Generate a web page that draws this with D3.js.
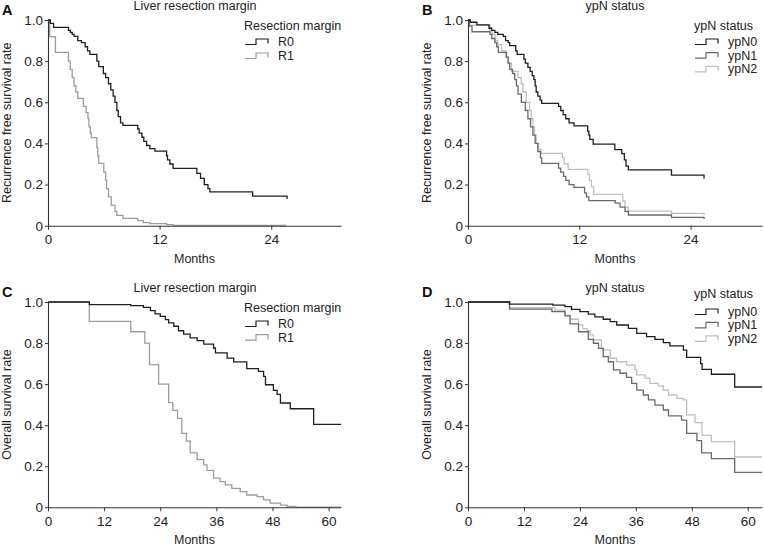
<!DOCTYPE html>
<html><head><meta charset="utf-8">
<script src="https://cdn.jsdelivr.net/npm/d3@7"></script>
<style>
html,body{margin:0;padding:0;background:#fff;}
svg{display:block;font-family:"Liberation Sans",Arial,sans-serif;}
</style></head>
<body><svg id="c" width="764" height="545"></svg>
<script>
// ---- data (months, survival rate) ----
const rfsMarginR0 = [[0,1],[0.25,0.984],[0.6,0.964],[2.2,0.95],[2.4,0.94],[2.6,0.93],[2.8,0.92],[3.2,0.90],[3.6,0.89],[4.0,0.87],[4.25,0.85],[4.5,0.833],[5.25,0.80],[5.45,0.773],[5.95,0.74],[6.2,0.72],[6.5,0.69],[6.75,0.66],[7.0,0.63],[7.2,0.60],[7.4,0.56],[7.55,0.53],[7.8,0.50],[8.05,0.488],[9.65,0.47],[9.8,0.45],[10.1,0.43],[10.3,0.41],[10.6,0.39],[10.95,0.375],[11.5,0.363],[12.75,0.34],[12.85,0.32],[13.1,0.30],[13.45,0.279],[16.0,0.254],[16.4,0.23],[16.8,0.20],[17.2,0.18],[17.4,0.164],[22.0,0.144],[25.7,0.144],[25.7,0.13]];
const rfsMarginR1 = [[0,1],[0.18,0.919],[0.8,0.843],[2.2,0.80],[2.4,0.76],[2.6,0.72],[2.8,0.68],[3.0,0.65],[3.2,0.619],[3.8,0.58],[4.1,0.55],[4.3,0.522],[4.4,0.48],[4.55,0.45],[4.65,0.428],[5.25,0.38],[5.35,0.34],[5.45,0.303],[6.0,0.26],[6.2,0.22],[6.3,0.18],[6.5,0.14],[6.8,0.10],[7.2,0.07],[7.4,0.05],[8.05,0.036],[9.65,0.025],[10.25,0.015],[10.95,0.01],[12.75,0.005],[13.45,0.002],[25.6,0.002]];
const rfsYpN0 = [[0,1],[0.25,0.989],[0.96,0.976],[2.27,0.96],[2.56,0.95],[2.9,0.94],[3.2,0.93],[3.8,0.92],[4.05,0.90],[4.33,0.89],[4.5,0.875],[5.15,0.85],[5.3,0.833],[6.03,0.81],[6.18,0.79],[6.46,0.77],[6.7,0.75],[6.92,0.73],[7.1,0.71],[7.24,0.68],[7.35,0.65],[7.53,0.63],[7.77,0.61],[7.95,0.595],[9.76,0.58],[10.0,0.56],[10.26,0.54],[10.54,0.52],[10.9,0.50],[11.43,0.485],[12.9,0.46],[13.03,0.44],[13.13,0.42],[13.5,0.397],[15.83,0.37],[16.58,0.35],[16.86,0.32],[17.04,0.29],[17.29,0.271],[21.94,0.246],[25.45,0.246],[25.45,0.23]];
const rfsYpN1 = [[0,1],[0.14,0.97],[0.43,0.943],[2.38,0.93],[2.56,0.91],[2.9,0.89],[3.09,0.87],[3.27,0.843],[4.15,0.82],[4.33,0.79],[4.5,0.76],[4.8,0.74],[5.04,0.71],[5.22,0.68],[5.4,0.64],[5.75,0.60],[6.18,0.56],[6.46,0.52],[6.74,0.48],[7.0,0.44],[7.24,0.40],[7.53,0.36],[7.81,0.33],[7.95,0.303],[9.76,0.28],[10.0,0.26],[10.3,0.24],[10.54,0.22],[10.9,0.20],[11.43,0.186],[12.57,0.16],[12.78,0.14],[13.03,0.122],[15.87,0.11],[16.4,0.09],[16.93,0.07],[17.29,0.052],[21.94,0.04],[25.45,0.04],[25.45,0.033]];
const rfsYpN2 = [[0,1],[0.14,0.975],[2.38,0.95],[2.56,0.93],[2.9,0.90],[3.2,0.88],[3.62,0.85],[4.05,0.82],[4.33,0.79],[4.69,0.75],[5.4,0.72],[5.75,0.69],[5.93,0.65],[6.28,0.60],[6.64,0.56],[6.82,0.52],[7.0,0.48],[7.17,0.44],[7.35,0.40],[7.6,0.37],[7.88,0.352],[10.19,0.33],[10.37,0.30],[10.8,0.274],[12.92,0.25],[13.1,0.22],[13.31,0.19],[13.56,0.152],[16.68,0.12],[16.93,0.09],[17.29,0.071],[21.94,0.06],[25.45,0.06],[25.45,0.052]];
const osMarginR0 = [[0,1],[8.84,0.987],[17.7,0.982],[20.4,0.974],[21.9,0.958],[22.9,0.942],[24.0,0.93],[25.1,0.914],[25.8,0.898],[26.9,0.882],[27.9,0.86],[29.0,0.844],[30.4,0.825],[31.9,0.812],[33.3,0.795],[35.4,0.776],[35.8,0.752],[38.3,0.727],[39.7,0.708],[42.5,0.675],[45.0,0.662],[46.1,0.638],[46.5,0.597],[48.2,0.57],[49.0,0.55],[49.7,0.508],[51.8,0.48],[56.8,0.404],[62.65,0.404]];
const osMarginR1 = [[0,1],[8.84,0.906],[17.7,0.855],[20.7,0.80],[21.7,0.695],[23.65,0.60],[25.8,0.51],[26.7,0.472],[27.7,0.433],[28.6,0.36],[29.6,0.322],[30.4,0.265],[31.9,0.232],[33.3,0.207],[34.0,0.18],[35.4,0.142],[36.8,0.125],[37.9,0.109],[39.3,0.092],[41.1,0.076],[42.5,0.06],[44.7,0.052],[46.1,0.036],[47.5,0.02],[49.7,0.011],[51.1,0.004],[53.0,0.001],[62.65,0.001]];
const osYpN0 = [[0,1],[8.9,0.99],[18.2,0.985],[20.8,0.977],[22.2,0.964],[24.0,0.953],[25.8,0.941],[27.2,0.928],[29.0,0.916],[30.5,0.904],[31.9,0.888],[34.4,0.872],[36.2,0.847],[38.3,0.831],[40.1,0.818],[41.9,0.802],[43.3,0.786],[46.2,0.766],[46.9,0.73],[49.9,0.70],[50.2,0.672],[52.2,0.648],[57.2,0.586],[63.06,0.586]];
const osYpN1 = [[0,1],[8.9,0.965],[18.0,0.953],[20.8,0.932],[21.9,0.893],[23.7,0.855],[25.8,0.818],[26.9,0.799],[28.0,0.774],[29.0,0.734],[30.1,0.709],[31.2,0.669],[32.6,0.653],[34.0,0.633],[35.1,0.604],[36.2,0.571],[37.6,0.547],[38.7,0.523],[40.1,0.498],[41.9,0.474],[43.0,0.445],[45.8,0.425],[46.9,0.36],[49.1,0.325],[50.1,0.265],[52.2,0.237],[57.2,0.17],[63.06,0.17]];
const osYpN2 = [[0,1],[8.9,0.972],[18.6,0.96],[20.8,0.935],[21.9,0.916],[23.7,0.89],[24.6,0.87],[25.5,0.86],[26.2,0.84],[26.9,0.815],[28.6,0.775],[29.0,0.766],[30.5,0.726],[31.9,0.709],[34.0,0.693],[35.8,0.669],[36.2,0.645],[38.0,0.628],[39.0,0.604],[40.8,0.591],[41.9,0.571],[43.0,0.547],[44.8,0.531],[46.2,0.523],[46.9,0.45],[48.7,0.412],[50.2,0.35],[52.2,0.32],[57.2,0.245],[63.06,0.245]];

const yTicks = [0, 0.2, 0.4, 0.6, 0.8, 1.0];
const yTickLabels = ["0", "0.2", "0.4", "0.6", "0.8", "1.0"];
const rfsXTicks = [0, 12, 24];
const osXTicks = [0, 12, 24, 36, 48, 60];
const marginLabels = ["R0", "R1"];
const ypnLabels = ["ypN0", "ypN1", "ypN2"];

// ---- styles ----
const marginColors = ["#1e1e1e", "#9c9c9c"];
const ypnColors = ["#1e1e1e", "#6a6a6a", "#bfbfbf"];

const panels = [
  {letter:"A", title:"Liver resection margin", ylab:"Recurrence free survival rate", legendTitle:"Resection margin",
   x0:48, x1:341, yTop:20, yBot:225.7, xMax:31.5, xTicks:rfsXTicks, series:[rfsMarginR0, rfsMarginR1], labels:marginLabels, colors:marginColors,
   letterPos:[2,15], titleX:195, titleY:9.5, ylabX:7, monthsY:262.5, legX:244, legTitleY:29.5, legRow0:42, legStep:14},
  {letter:"B", title:"ypN status", ylab:"Recurrence free survival rate", legendTitle:"ypN status",
   x0:468, x1:762, yTop:20, yBot:225.7, xMax:31.7, xTicks:rfsXTicks, series:[rfsYpN0, rfsYpN1, rfsYpN2], labels:ypnLabels, colors:ypnColors,
   letterPos:[422,15], titleX:615, titleY:9.5, ylabX:427, monthsY:262.5, legX:694, legTitleY:29.5, legRow0:42, legStep:13.7},
  {letter:"C", title:"Liver resection margin", ylab:"Overall survival rate", legendTitle:"Resection margin",
   x0:48, x1:341, yTop:302, yBot:507.3, xMax:62.65, xTicks:osXTicks, series:[osMarginR0, osMarginR1], labels:marginLabels, colors:marginColors,
   letterPos:[2,297], titleX:195, titleY:291.5, ylabX:7, monthsY:543.5, legX:244, legTitleY:311.5, legRow0:324, legStep:13.7},
  {letter:"D", title:"ypN status", ylab:"Overall survival rate", legendTitle:"ypN status",
   x0:468, x1:762, yTop:302, yBot:507.3, xMax:63.06, xTicks:osXTicks, series:[osYpN0, osYpN1, osYpN2], labels:ypnLabels, colors:ypnColors,
   letterPos:[422,297], titleX:615, titleY:291.5, ylabX:427, monthsY:543.5, legX:694, legTitleY:298, legRow0:312, legStep:13.4}
];

const svg = d3.select("#c");
const TXT = "#222";

panels.forEach(p => {
  const x = d3.scaleLinear().domain([0, p.xMax]).range([p.x0, p.x1]);
  const y = d3.scaleLinear().domain([0, 1]).range([p.yBot, p.yTop]);
  const g = svg.append("g");

  // curves (draw lighter first)
  const line = d3.line().x(d => x(d[0])).y(d => y(d[1])).curve(d3.curveStepAfter);
  p.series.map((s,i)=>({s,i})).reverse().forEach(({s,i}) => {
    g.append("path").datum(s).attr("d", line).attr("fill","none")
      .attr("stroke", p.colors[i]).attr("stroke-width", 1.3);
  });

  // axes
  const ya = g.append("g").attr("transform", `translate(${p.x0},0)`)
    .call(d3.axisLeft(y).tickValues(yTicks).tickFormat((d,i)=>yTickLabels[i]).tickSize(3).tickPadding(2).tickSizeOuter(0));
  const xa = g.append("g").attr("transform", `translate(0,${p.yBot})`)
    .call(d3.axisBottom(x).tickValues(p.xTicks).tickFormat(d3.format("d")).tickSize(4).tickPadding(5).tickSizeOuter(0));
  [ya, xa].forEach(a => {
    a.selectAll("path").attr("stroke", "#333").attr("stroke-width", 1.1);
    a.selectAll("line").attr("stroke", "#333");
    a.selectAll("text").attr("fill", TXT).style("font-size", "13.5px").style("font-family", "'Liberation Sans',Arial,sans-serif");
  });

  // texts
  g.append("text").attr("x", p.letterPos[0]).attr("y", p.letterPos[1]).text(p.letter)
    .attr("font-weight", "bold").attr("font-size", 14.5).attr("fill", "#111");
  g.append("text").attr("x", p.titleX).attr("y", p.titleY).attr("text-anchor","middle").text(p.title)
    .attr("font-size", 12.5).attr("fill", TXT);
  g.append("text").attr("transform", `translate(${p.ylabX},${(p.yTop+p.yBot)/2}) rotate(-90)`)
    .attr("text-anchor","middle").attr("dominant-baseline","central").text(p.ylab)
    .attr("font-size", 12.5).attr("fill", TXT);
  g.append("text").attr("x", (p.x0 + (p.x0===48?341:762))/2 - (p.x0===48?0:0)).attr("y", p.monthsY)
    .attr("text-anchor","middle").text("Months").attr("font-size", 12.5).attr("fill", TXT);

  // legend
  const lg = g.append("g");
  lg.append("text").attr("x", p.legX).attr("y", p.legTitleY).text(p.legendTitle)
    .attr("font-size", 12.5).attr("fill", TXT);
  p.labels.forEach((lab, i) => {
    const cy = p.legRow0 + i * p.legStep;
    const sx = p.legX + 1;
    lg.append("path")
      .attr("d", `M${sx},${cy+2.5}H${sx+11}V${cy-3}H${sx+23}V${cy+1.5}`)
      .attr("fill","none").attr("stroke", p.colors[i]).attr("stroke-width", 1.2);
    lg.append("text").attr("x", sx + 33).attr("y", cy).attr("dominant-baseline","central")
      .text(lab).attr("font-size", 12.5).attr("fill", TXT);
  });
});
</script></body></html>
